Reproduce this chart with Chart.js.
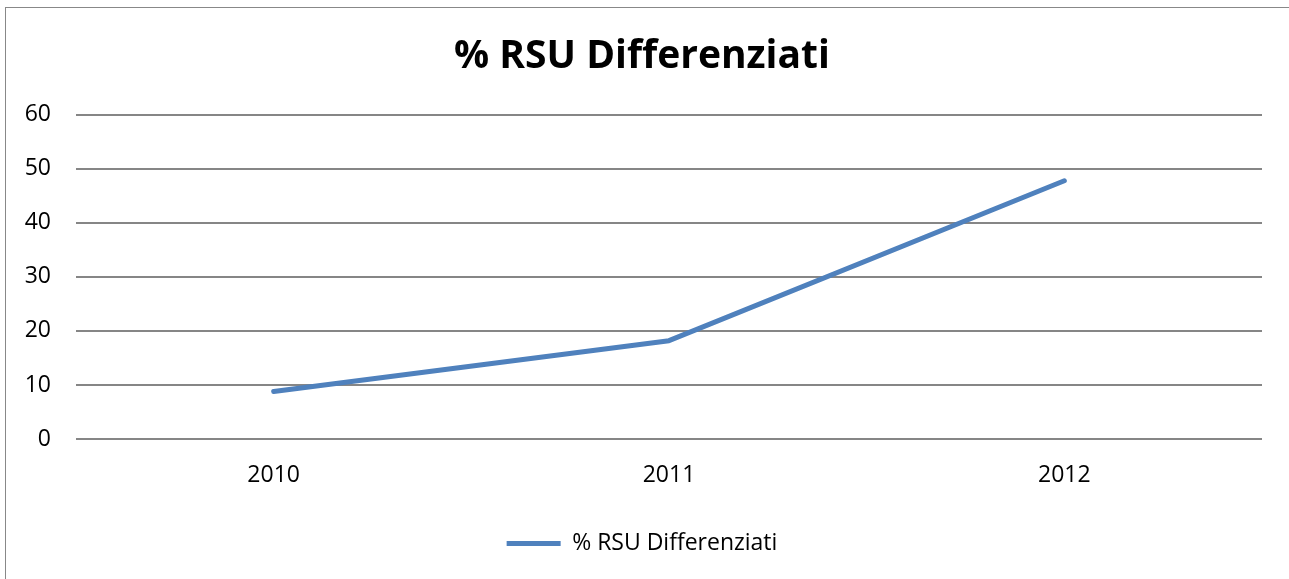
<!DOCTYPE html>
<html lang="it">
<head>
    <meta charset="UTF-8">
    <title>% RSU Differenziati</title>
    <script src="https://cdn.jsdelivr.net/npm/chart.js"></script>
    <style>
        body {
            margin: 0;
            padding: 0;
            background-color: #ffffff;
            overflow: hidden;
        }
        .frame {
            position: absolute;
            left: 5px;
            top: 7px;
            width: 1300px;
            height: 600px;
            border-left: 1px solid #888888;
            border-top: 1px solid #888888;
            pointer-events: none;
        }
        .chart-box {
            position: absolute;
            left: 0;
            top: 0;
            width: 1289px;
            height: 579px;
        }
    </style>
</head>
<body>
    <div class="chart-box">
        <canvas id="rsuChart"></canvas>
    </div>
    <div class="frame"></div>

    <script>
        const years = ['2010', '2011', '2012'];
        const percDifferenziati = [8.8, 18.2, 47.8];
        const seriesName = '% RSU Differenziati';

        const ctx = document.getElementById('rsuChart').getContext('2d');
        const rsuChart = new Chart(ctx, {
            type: 'line',
            data: {
                labels: years,
                datasets: [{
                    label: seriesName,
                    data: percDifferenziati,
                    borderColor: '#4f81bd',
                    backgroundColor: '#4f81bd',
                    borderWidth: 5,
                    borderCapStyle: 'round',
                    borderJoinStyle: 'round',
                    pointRadius: 0,
                    pointHoverRadius: 0,
                    tension: 0,
                    fill: false
                }]
            },
            options: {
                responsive: true,
                maintainAspectRatio: false,
                animation: false,
                layout: {
                    padding: { left: 22, right: 27, top: 0, bottom: 14 }
                },
                plugins: {
                    title: {
                        display: true,
                        text: seriesName,
                        color: '#000000',
                        font: { family: 'Open Sans', size: 39, weight: 'bold' },
                        padding: { top: 33, bottom: 35 }
                    },
                    legend: {
                        position: 'bottom',
                        labels: {
                            color: '#000000',
                            font: { family: 'Open Sans', size: 23 },
                            usePointStyle: true,
                            pointStyle: 'line',
                            pointStyleWidth: 54,
                            boxHeight: 20,
                            padding: 4
                        }
                    },
                    tooltip: { enabled: false }
                },
                scales: {
                    x: {
                        offset: true,
                        afterFit: (scale) => { scale.height = 89; },
                        grid: { display: false, drawTicks: false },
                        border: { display: false },
                        ticks: {
                            color: '#000000',
                            font: { family: 'Open Sans', size: 23 },
                            padding: 23,
                            maxRotation: 0
                        }
                    },
                    y: {
                        min: 0,
                        max: 60,
                        afterFit: (scale) => { scale.width = 54; },
                        grid: { color: '#868686', lineWidth: 2, drawTicks: false },
                        border: { display: false },
                        ticks: {
                            stepSize: 10,
                            color: '#000000',
                            font: { family: 'Open Sans', size: 23 },
                            padding: 25
                        }
                    }
                }
            }
        });
    </script>
</body>
</html>
